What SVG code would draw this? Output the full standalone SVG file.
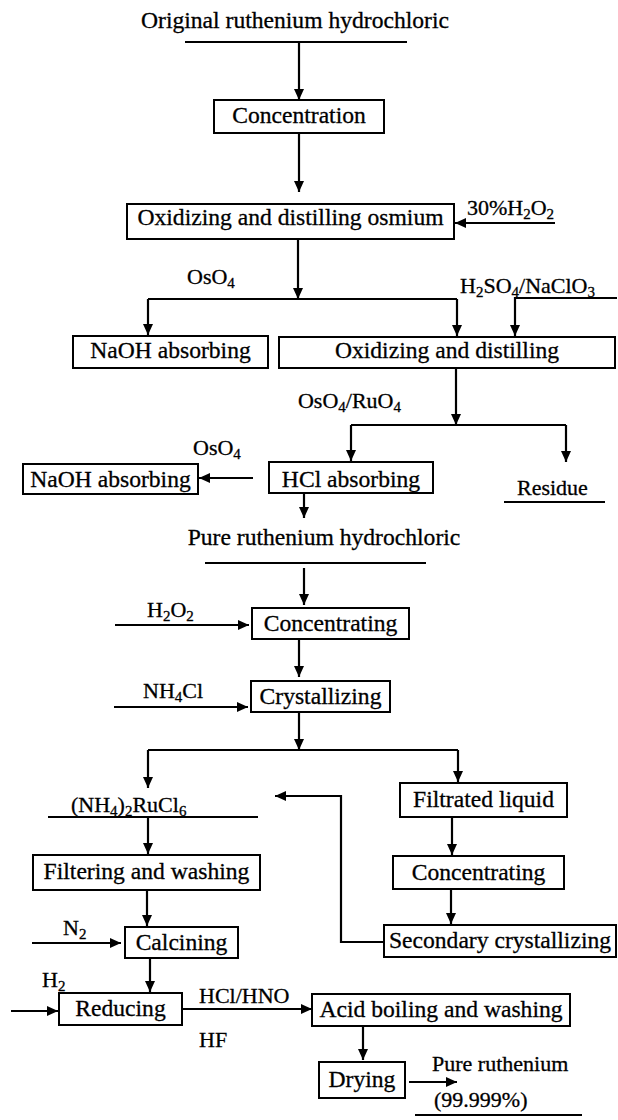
<svg xmlns="http://www.w3.org/2000/svg" width="618" height="1120" viewBox="0 0 618 1120">
<style>
text{font-family:"Liberation Serif","Times New Roman",serif;fill:#000;stroke:#000;stroke-width:0.3}
.b{font-size:23.6px;text-anchor:middle}
.t{font-size:23.6px}
.l{font-size:22px}
.s{font-size:15px}
rect{fill:#fff;stroke:#000;stroke-width:2}
.c line,.c path,.c polyline{stroke:#000;stroke-width:2.2;fill:none}
.u{stroke:#000;stroke-width:2}
</style>
<defs>
<marker id="ah" markerWidth="11" markerHeight="11" refX="11" refY="5.5" orient="auto" markerUnits="userSpaceOnUse"><path d="M0,0.5 L11,5.5 L0,10.5 z" fill="#000"/></marker>
</defs>
<rect x="0" y="0" width="618" height="1120" style="stroke:none;fill:#fff"/>

<g id="connectors" class="c">
<line x1="299" y1="42" x2="299" y2="100" marker-end="url(#ah)"/>
<line x1="299" y1="133" x2="299" y2="192" marker-end="url(#ah)"/>
<line x1="555" y1="223" x2="455" y2="223" marker-end="url(#ah)"/>
<line x1="298" y1="239" x2="298" y2="299" marker-end="url(#ah)"/>
<line x1="148" y1="299" x2="457" y2="299"/>
<line x1="148" y1="299" x2="148" y2="335" marker-end="url(#ah)"/>
<line x1="457" y1="299" x2="457" y2="336" marker-end="url(#ah)"/>
<polyline points="617,298 515,298 515,336" marker-end="url(#ah)"/>
<line x1="456" y1="368" x2="456" y2="425" marker-end="url(#ah)"/>
<line x1="351" y1="425" x2="566" y2="425"/>
<line x1="351" y1="425" x2="351" y2="461" marker-end="url(#ah)"/>
<line x1="566" y1="425" x2="566" y2="462" marker-end="url(#ah)"/>
<line x1="253" y1="478" x2="199" y2="478" marker-end="url(#ah)"/>
<line x1="304" y1="493" x2="304" y2="518" marker-end="url(#ah)"/>
<line x1="304" y1="568" x2="304" y2="605" marker-end="url(#ah)"/>
<line x1="115" y1="625" x2="249" y2="625" marker-end="url(#ah)"/>
<line x1="299" y1="639" x2="299" y2="677" marker-end="url(#ah)"/>
<line x1="114" y1="707" x2="248" y2="707" marker-end="url(#ah)"/>
<line x1="299" y1="712" x2="299" y2="750" marker-end="url(#ah)"/>
<line x1="148" y1="750" x2="458" y2="750"/>
<line x1="148" y1="750" x2="148" y2="788" marker-end="url(#ah)"/>
<line x1="458" y1="750" x2="458" y2="782" marker-end="url(#ah)"/>
<polyline points="384,942 341,942 341,796 275,796" marker-end="url(#ah)"/>
<line x1="148" y1="817" x2="148" y2="854" marker-end="url(#ah)"/>
<line x1="452" y1="817" x2="452" y2="855" marker-end="url(#ah)"/>
<line x1="451" y1="889" x2="451" y2="924" marker-end="url(#ah)"/>
<line x1="147" y1="890" x2="147" y2="926" marker-end="url(#ah)"/>
<line x1="32" y1="943" x2="121" y2="943" marker-end="url(#ah)"/>
<line x1="150" y1="958" x2="150" y2="992" marker-end="url(#ah)"/>
<line x1="11" y1="1011" x2="58" y2="1011" marker-end="url(#ah)"/>
<line x1="182" y1="1009" x2="312" y2="1009" marker-end="url(#ah)"/>
<line x1="363" y1="1026" x2="363" y2="1060" marker-end="url(#ah)"/>
<line x1="409" y1="1082" x2="457" y2="1082" marker-end="url(#ah)"/>
</g>

<g id="n-original">
<text class="t" x="295" y="28" text-anchor="middle">Original ruthenium hydrochloric</text>
<line class="u" x1="185" y1="42" x2="407" y2="42"/>
</g>
<g id="n-concentration"><rect x="214" y="100" width="170" height="33"/><text class="b" x="299" y="123">Concentration</text></g>
<g id="n-osmium"><rect x="127" y="204" width="327" height="35"/><text class="b" x="290.5" y="225">Oxidizing and distilling osmium</text></g>
<g id="l-h2o2a"><text class="l" x="467" y="215">30%H<tspan class="s" dy="4">2</tspan><tspan dy="-4">O</tspan><tspan class="s" dy="4">2</tspan></text></g>
<g id="l-oso4a"><text class="l" x="187" y="284">OsO<tspan class="s" dy="4">4</tspan></text></g>
<g id="l-h2so4"><text class="l" x="460" y="293">H<tspan class="s" dy="4">2</tspan><tspan dy="-4">SO</tspan><tspan class="s" dy="4">4</tspan><tspan dy="-4">/NaClO</tspan><tspan class="s" dy="4">3</tspan></text></g>
<g id="n-naoh1"><rect x="73" y="336" width="195" height="32"/><text class="b" x="170.5" y="358">NaOH absorbing</text></g>
<g id="n-oxdist"><rect x="279" y="337" width="336" height="31"/><text class="b" x="447" y="358">Oxidizing and distilling</text></g>
<g id="l-osru"><text class="l" x="401" y="408" text-anchor="end">OsO<tspan class="s" dy="4">4</tspan><tspan dy="-4">/RuO</tspan><tspan class="s" dy="4">4</tspan></text></g>
<g id="l-oso4b"><text class="l" x="193" y="455">OsO<tspan class="s" dy="4">4</tspan></text></g>
<g id="n-naoh2"><rect x="23" y="464" width="175" height="30"/><text class="b" x="110.5" y="487">NaOH absorbing</text></g>
<g id="n-hcl"><rect x="269" y="462" width="164" height="31"/><text class="b" x="351" y="487">HCl absorbing</text></g>
<g id="n-residue"><text class="l" x="517" y="495">Residue</text><line class="u" x1="504" y1="502" x2="605" y2="502"/></g>
<g id="n-pure">
<text class="t" x="324" y="545" text-anchor="middle">Pure ruthenium hydrochloric</text>
<line class="u" x1="205" y1="563" x2="426" y2="563"/>
</g>
<g id="l-h2o2b"><text class="l" x="147" y="617">H<tspan class="s" dy="4">2</tspan><tspan dy="-4">O</tspan><tspan class="s" dy="4">2</tspan></text></g>
<g id="n-concentrating1"><rect x="252" y="608" width="157" height="31"/><text class="b" x="330.5" y="631">Concentrating</text></g>
<g id="l-nh4cl"><text class="l" x="143" y="698">NH<tspan class="s" dy="4">4</tspan><tspan dy="-4">Cl</tspan></text></g>
<g id="n-crystallizing"><rect x="251" y="681" width="139" height="31"/><text class="b" x="320.5" y="704">Crystallizing</text></g>
<g id="n-salt"><text class="l" x="71" y="812">(NH<tspan class="s" dy="4">4</tspan><tspan dy="-4">)</tspan><tspan class="s" dy="4">2</tspan><tspan dy="-4">RuCl</tspan><tspan class="s" dy="4">6</tspan></text><line class="u" x1="48" y1="817" x2="258" y2="817"/></g>
<g id="n-filtrated"><rect x="400" y="783" width="167" height="34"/><text class="b" x="483.5" y="807">Filtrated liquid</text></g>
<g id="n-filtering"><rect x="33" y="855" width="227" height="35"/><text class="b" x="146.5" y="879">Filtering and washing</text></g>
<g id="n-concentrating2"><rect x="393" y="856" width="171" height="33"/><text class="b" x="478.5" y="880">Concentrating</text></g>
<g id="n-secondary"><rect x="384" y="925" width="232" height="32"/><text class="b" x="500" y="948">Secondary crystallizing</text></g>
<g id="l-n2"><text class="l" x="63" y="935">N<tspan class="s" dy="4">2</tspan></text></g>
<g id="n-calcining"><rect x="125" y="927" width="113" height="31"/><text class="b" x="181.5" y="950">Calcining</text></g>
<g id="l-h2"><text class="l" x="42" y="987">H<tspan class="s" dy="4">2</tspan></text></g>
<g id="n-reducing"><rect x="59" y="993" width="123" height="32"/><text class="b" x="120.5" y="1016">Reducing</text></g>
<g id="l-acid"><text class="l" x="199" y="1003">HCl/HNO</text><text class="l" x="199" y="1047">HF</text></g>
<g id="n-acid"><rect x="312" y="994" width="258" height="32"/><text class="b" x="441" y="1017">Acid boiling and washing</text></g>
<g id="n-drying"><rect x="319" y="1062" width="86" height="36"/><text class="b" x="362" y="1087">Drying</text></g>
<g id="n-product">
<text class="l" x="432" y="1071">Pure ruthenium</text>
<text class="l" x="434" y="1107">(99.999%)</text>
<line class="u" x1="415" y1="1115" x2="582" y2="1115"/>
</g>
</svg>
